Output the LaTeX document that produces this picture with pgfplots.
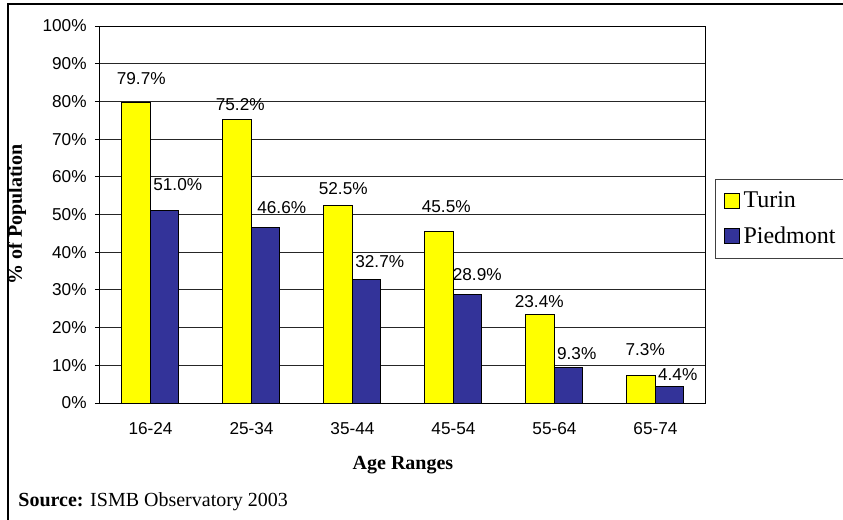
\documentclass[border=0pt]{standalone}
\usepackage{pgfplots}
\pgfplotsset{compat=1.18}
\usepackage{pgfplotstable}
\usepackage{fontspec}
\setmainfont{Liberation Serif}
\newfontfamily\arial{Liberation Sans}
\definecolor{turin}{HTML}{FFFF00}
\definecolor{pied}{HTML}{333399}
\pgfplotstableread{
x y dx dy
0 79.7 2.5 11.75
1 75.2 1.5 7.25
2 52.5 2.5 8
3 45.5 3.5 12.25
4 23.4 -0.5 6.5
5 7.3 2 12.75
}\turin
\pgfplotstableread{
x y dx dy
0 51.0 6.5 13
1 46.6 8 10
2 32.7 6.5 9
3 28.9 4.75 9.5
4 9.3 4 7
5 4.4 4 6
}\piedmont
\begin{document}
\begin{tikzpicture}
\useasboundingbox (0,0) rectangle (421.5pt,-260pt);
\draw[line width=1pt] (4pt,-260pt) -- (4pt,-2pt) -- (421.5pt,-2pt);
\begin{axis}[
  at={(50pt,-201.5pt)}, anchor=south west,
  scale only axis, width=303pt, height=188.5pt,
  xmin=-0.5, xmax=5.5, ymin=0, ymax=100,
  ybar=0pt, bar width=14.25pt,
  axis line style={line width=0.5pt, black},
  ytick={0,10,...,100},
  yticklabel={\pgfmathprintnumber{\tick}\%},
  ymajorgrids, grid style={line width=0.5pt, black!85},
  tick align=outside,
  xtick pos=bottom, ytick pos=left,
  major tick length=2.5pt,
  tick style={line width=0.5pt, black},
  xtick={0,...,5},
  xticklabels={16-24,25-34,35-44,45-54,55-64,65-74},
  x tick style={draw=none},
  extra x ticks={-0.5,0.5,1.5,2.5,3.5,4.5,5.5},
  extra x tick labels={},
  extra x tick style={grid=none, tick style={draw=black, line width=0.5pt}},
  /pgf/number format/assume math mode=true,
  ticklabel style={font=\arial\fontsize{8.6}{10}\selectfont},
  xticklabel style={anchor=center, inner sep=0pt, yshift=-10.5pt},
  yticklabel style={anchor=east, inner sep=0pt, xshift=-4pt},
  xlabel={\textbf{Age Ranges}},
  ylabel={\textbf{\% of Population}},
  label style={font=\fontsize{10}{12}\selectfont},
  xlabel style={at={(axis description cs:0.5,-0.1645)}, anchor=center},
  ylabel style={at={(axis description cs:-0.137,0.5)}, anchor=center},
  nodes near coords={\pgfmathprintnumber[fixed,fixed zerofill,precision=1]{\pgfplotspointmeta}\%},
  visualization depends on={\thisrow{dx} \as \dx},
  visualization depends on={\thisrow{dy} \as \dy},
  nodes near coords style={anchor=center, inner sep=0pt, xshift=\dx pt, yshift=\dy pt, font=\arial\fontsize{8.6}{10}\selectfont, text=black},
  area legend,
  legend image code/.code={\draw[#1, line width=0.5pt] (0pt,-3.75pt) rectangle (7.5pt,3.75pt);},
  legend style={at={(rel axis cs:1.0149,0.594)}, anchor=north west,
    draw=black!75, line width=0.5pt, font=\fontsize{12}{14}\selectfont,
    inner xsep=4pt, inner ysep=4pt, row sep=4pt},
  legend cell align=left,
]
\addplot[fill=turin, draw=black, line width=0.5pt] table[x=x,y=y] {\turin};
\addplot[fill=pied, draw=black, line width=0.5pt] table[x=x,y=y] {\piedmont};
\legend{Turin,Piedmont}
\end{axis}
\node[anchor=base west, inner sep=0pt, font=\fontsize{10}{12}\selectfont] at (9pt,-253pt) {\textbf{Source:} ISMB Observatory 2003};
\end{tikzpicture}
\end{document}
